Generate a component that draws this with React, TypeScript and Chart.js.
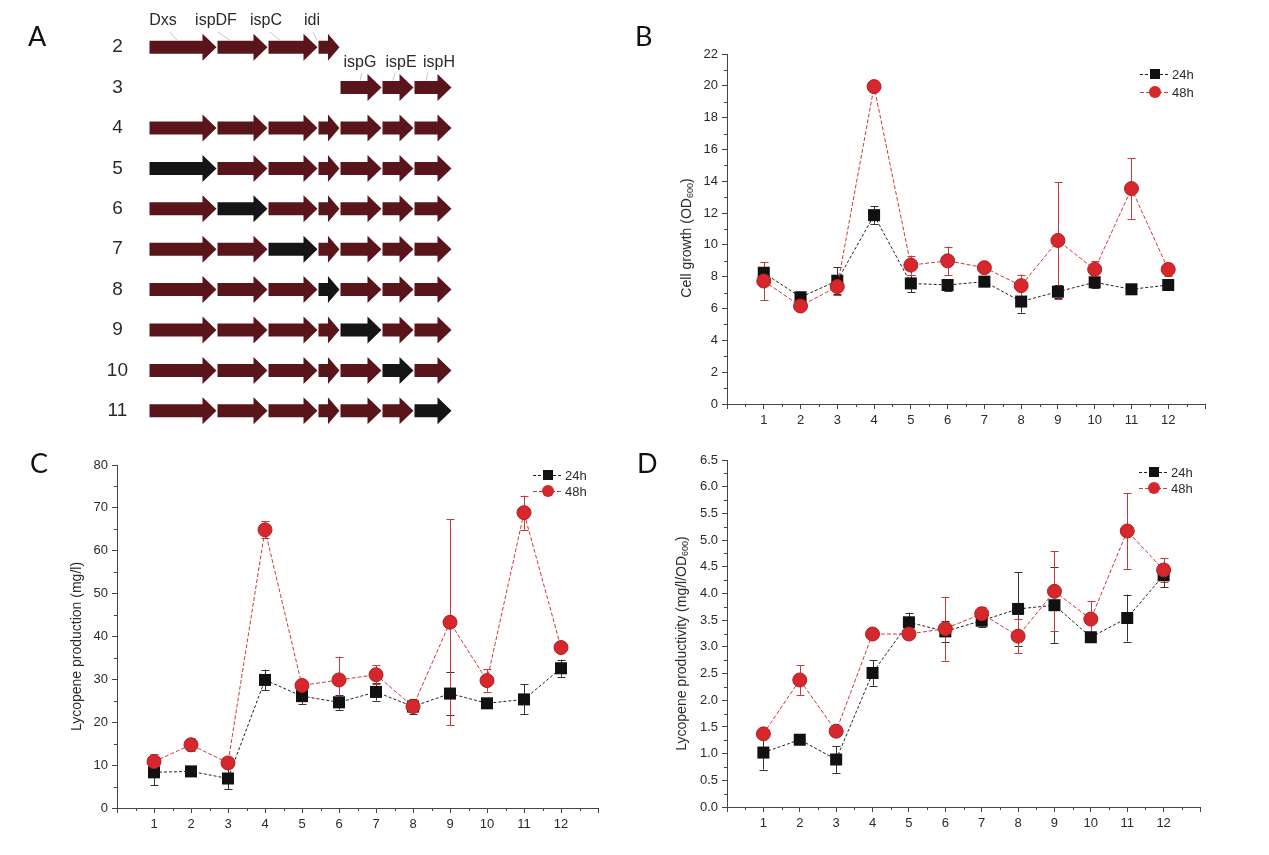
import React, { useEffect, useRef } from 'react';
import { Chart, registerables } from 'chart.js';

Chart.register(...registerables);

// ---------- Panel A data ----------
const geneNames = ['Dxs', 'ispDF', 'ispC', 'idi', 'ispG', 'ispE', 'ispH'];
const geneLengths = [68, 51, 50, 22, 42, 32, 38];
const constructs = ['2', '3', '4', '5', '6', '7', '8', '9', '10', '11'];
const constructGenes = [
  [0, 1, 2, 3],
  [4, 5, 6],
  [0, 1, 2, 3, 4, 5, 6],
  [0, 1, 2, 3, 4, 5, 6],
  [0, 1, 2, 3, 4, 5, 6],
  [0, 1, 2, 3, 4, 5, 6],
  [0, 1, 2, 3, 4, 5, 6],
  [0, 1, 2, 3, 4, 5, 6],
  [0, 1, 2, 3, 4, 5, 6],
  [0, 1, 2, 3, 4, 5, 6],
];
const replacedGene = [-1, -1, -1, 0, 1, 2, 3, 4, 5, 6];

// ---------- Panels B-D data ----------
const strains = [1, 2, 3, 4, 5, 6, 7, 8, 9, 10, 11, 12];
const seriesLabels = ['24h', '48h'];

const growth24 = [8.25, 6.71, 7.75, 11.87, 7.58, 7.48, 7.69, 6.44, 7.06, 7.65, 7.21, 7.48];
const growth24Err = [0.3, 0.15, 0.85, 0.55, 0.55, 0.35, 0.2, 0.7, 0.4, 0.35, 0.15, 0.2];
const growth48 = [7.73, 6.16, 7.38, 19.95, 8.73, 9.0, 8.57, 7.44, 10.28, 8.46, 13.54, 8.46];
const growth48Err = [1.2, 0.2, 0.5, 0.3, 0.6, 0.9, 0.2, 0.7, 3.65, 0.5, 1.9, 0.4];

const prod24 = [8.32, 8.54, 6.88, 29.87, 26.09, 24.65, 27.07, 23.67, 26.69, 24.42, 25.33, 32.59];
const prod24Err = [3.0, 0.5, 2.5, 2.4, 1.8, 1.7, 2.0, 1.7, 5.1, 0.5, 3.5, 2.0];
const prod48 = [10.81, 14.74, 10.51, 64.88, 28.58, 29.87, 31.08, 23.67, 43.33, 29.72, 68.88, 37.43];
const prod48Err = [1.7, 1.5, 0.5, 2.0, 0.5, 5.4, 2.2, 1.0, 24.0, 2.6, 4.0, 0.5];

const pty24 = [1.02, 1.26, 0.89, 2.51, 3.46, 3.29, 3.49, 3.71, 3.78, 3.18, 3.54, 4.34];
const pty24Err = [0.32, 0.05, 0.25, 0.24, 0.18, 0.2, 0.12, 0.69, 0.71, 0.05, 0.44, 0.22];
const pty48 = [1.37, 2.38, 1.42, 3.24, 3.24, 3.34, 3.62, 3.2, 4.04, 3.52, 5.17, 4.44];
const pty48Err = [0.05, 0.28, 0.08, 0.03, 0.05, 0.6, 0.13, 0.32, 0.75, 0.34, 0.71, 0.22];

// ---------- styles ----------
const FONT = "'Liberation Sans', Arial, sans-serif";
const LETTER_FONT = "Lato, 'Open Sans', sans-serif";
const AXIS = '#444';
const TEXT = '#2a2a2a';
const RED = '#d6282c';
const RED_LINE = '#cf3a3a';
const BLACK = '#111';
const GENE_RED = '#5a151a';
const GENE_BLACK = '#151515';

function letterPlugin(text: string, x: number, y: number) {
  return {
    id: 'letter',
    afterDraw(chart: any) {
      const ctx = chart.ctx;
      ctx.save();
      ctx.fillStyle = '#111';
      ctx.font = `27px ${LETTER_FONT}`;
      ctx.textAlign = 'left';
      ctx.textBaseline = 'alphabetic';
      ctx.fillText(text, x, y);
      ctx.restore();
    },
  };
}

// canvas A is shifted up by this much so that the chart area lands where wanted
const A_SHIFT = 10;

function makeGeneChart(canvas: HTMLCanvasElement) {
  const starts = geneLengths.map((_, i) => geneLengths.slice(0, i).reduce((a, b) => a + b, 0));
  const total = geneLengths.reduce((a, b) => a + b, 0);
  const labelDx = [14, -1, -2, -6, 20, 19, 25];
  const leadFrom = [7, 2, 4, 1, 2, -6, -11];
  const leadTo = [14, 14, 14, 5, 0, -8, -13];

  const arrows = {
    id: 'arrows',
    afterDatasetsDraw(chart: any) {
      const ctx = chart.ctx;
      ctx.save();
      geneNames.forEach((_, g) => {
        const meta = chart.getDatasetMeta(g);
        meta.data.forEach((el: any, r: number) => {
          if (chart.data.datasets[g].data[r] == null) return;
          const p = el.getProps(['x', 'base', 'y', 'height'], true);
          const left = Math.min(p.x, p.base) + 0.5;
          const right = Math.max(p.x, p.base) - 0.5;
          const bh = 6.5;
          const hh = 13.5;
          const hl = Math.min(14, (right - left) * 0.55);
          ctx.beginPath();
          ctx.moveTo(left, p.y - bh);
          ctx.lineTo(right - hl, p.y - bh);
          ctx.lineTo(right - hl, p.y - hh);
          ctx.lineTo(right, p.y);
          ctx.lineTo(right - hl, p.y + hh);
          ctx.lineTo(right - hl, p.y + bh);
          ctx.lineTo(left, p.y + bh);
          ctx.closePath();
          ctx.fillStyle = replacedGene[r] === g ? GENE_BLACK : GENE_RED;
          ctx.fill();
        });
      });
      // gene labels above their first occurrence
      ctx.font = `16px ${FONT}`;
      ctx.textAlign = 'center';
      ctx.textBaseline = 'middle';
      geneNames.forEach((name, g) => {
        const r = constructGenes.findIndex((row) => row.includes(g));
        const el = chart.getDatasetMeta(g).data[r];
        const p = el.getProps(['x', 'base', 'y'], true);
        const cx = Math.min(p.x, p.base) + labelDx[g];
        const up = r === 0 ? 27 : 25;
        ctx.fillStyle = TEXT;
        ctx.fillText(name, cx, p.y - up);
        ctx.strokeStyle = '#b8b8b8';
        ctx.lineWidth = 0.8;
        ctx.beginPath();
        ctx.moveTo(cx + leadFrom[g], p.y - 15);
        ctx.lineTo(cx + leadTo[g], p.y - 7);
        ctx.stroke();
      });
      ctx.restore();
    },
  };

  return new Chart(canvas, {
    type: 'bar',
    data: {
      labels: constructs,
      datasets: geneNames.map((name, g) => ({
        label: name,
        data: constructs.map((_, r) =>
          constructGenes[r].includes(g) ? [starts[g], starts[g] + geneLengths[g]] : null
        ),
        backgroundColor: 'rgba(0,0,0,0)',
        borderWidth: 0,
        barThickness: 13,
        grouped: false,
      })) as any,
    },
    options: {
      indexAxis: 'y',
      responsive: false,
      animation: false,
      layout: { padding: { left: 0, top: 27 + A_SHIFT, right: 168, bottom: 39 } },
      plugins: { legend: { display: false }, tooltip: { enabled: false } },
      scales: {
        x: { type: 'linear', display: false, min: 0, max: total },
        y: {
          type: 'category',
          afterFit: (s: any) => {
            s.width = 149;
          },
          grid: { display: false },
          border: { display: false },
          ticks: {
            font: { family: FONT, size: 19 },
            color: TEXT,
            padding: 13,
            crossAlign: 'center',
          },
        },
      },
    } as any,
    plugins: [arrows, letterPlugin('A', 28, 46 + A_SHIFT)],
  });
}

type PanelCfg = {
  s24: number[];
  e24: number[];
  s48: number[];
  e48: number[];
  yMax: number;
  yStep: number;
  yMinor: number;
  decimals: number;
  title: string;
  titleSub: string;
  titleEnd: string;
  titleX: number;
  titleDy: number;
  letter: string;
  letterX: number;
  letterY: number;
  pad: { left: number; top: number; right: number; bottom: number };
  yWidth: number;
  legendDx: number;
  legendDy: number;
  legendGap: number;
};

function makePanel(canvas: HTMLCanvasElement, cfg: PanelCfg) {
  const errs = [cfg.e24, cfg.e48];
  const errColors = ['#333', '#c93a3c'];

  const errorBars = {
    id: 'errorBars',
    beforeDatasetsDraw(chart: any) {
      const ctx = chart.ctx;
      const xs = chart.scales.x;
      const ys = chart.scales.y;
      ctx.save();
      ctx.lineWidth = 1;
      chart.data.datasets.forEach((ds: any, i: number) => {
        ctx.strokeStyle = errColors[i];
        ds.data.forEach((pt: any, k: number) => {
          const e = errs[i][k];
          const px = Math.round(xs.getPixelForValue(pt.x)) + 0.5;
          const top = ys.getPixelForValue(pt.y + e);
          const bot = ys.getPixelForValue(pt.y - e);
          ctx.beginPath();
          ctx.moveTo(px, top);
          ctx.lineTo(px, bot);
          ctx.moveTo(px - 4, Math.round(top) + 0.5);
          ctx.lineTo(px + 4, Math.round(top) + 0.5);
          ctx.moveTo(px - 4, Math.round(bot) + 0.5);
          ctx.lineTo(px + 4, Math.round(bot) + 0.5);
          ctx.stroke();
        });
      });
      ctx.restore();
    },
  };

  const minorTicks = {
    id: 'minorTicks',
    afterDraw(chart: any) {
      const ctx = chart.ctx;
      const xs = chart.scales.x;
      const ys = chart.scales.y;
      ctx.save();
      ctx.strokeStyle = AXIS;
      ctx.lineWidth = 1;
      ctx.beginPath();
      for (let v = 0.5; v < 13; v += 1) {
        const px = Math.round(xs.getPixelForValue(v)) + 0.5;
        ctx.moveTo(px, xs.top);
        ctx.lineTo(px, xs.top + 3);
      }
      for (let k = 1; k * cfg.yMinor < cfg.yMax - 1e-9; k += 2) {
        const py = Math.round(ys.getPixelForValue(k * cfg.yMinor)) + 0.5;
        ctx.moveTo(ys.right - 3, py);
        ctx.lineTo(ys.right, py);
      }
      ctx.stroke();
      ctx.restore();
    },
  };

  const legend = {
    id: 'customLegend',
    afterDraw(chart: any) {
      const ctx = chart.ctx;
      const area = chart.chartArea;
      ctx.save();
      chart.data.datasets.forEach((ds: any, i: number) => {
        const yy = area.top + cfg.legendDy + i * cfg.legendGap;
        const xm = area.right - cfg.legendDx;
        ctx.strokeStyle = ds.borderColor;
        ctx.lineWidth = 1;
        ctx.setLineDash(ds.borderDash);
        ctx.beginPath();
        ctx.moveTo(xm - 15, yy + 0.5);
        ctx.lineTo(xm + 15, yy + 0.5);
        ctx.stroke();
        ctx.setLineDash([]);
        ctx.fillStyle = ds.pointBackgroundColor;
        if (ds.pointStyle === 'rect') {
          ctx.fillRect(xm - 5, yy - 5, 10, 10);
        } else {
          ctx.beginPath();
          ctx.arc(xm, yy, 6, 0, Math.PI * 2);
          ctx.fill();
        }
        ctx.fillStyle = TEXT;
        ctx.font = `13px ${FONT}`;
        ctx.textAlign = 'left';
        ctx.textBaseline = 'middle';
        ctx.fillText(ds.label, xm + 17, yy + 1);
      });
      ctx.restore();
    },
  };

  const yTitle = {
    id: 'yTitle',
    afterDraw(chart: any) {
      const ctx = chart.ctx;
      const area = chart.chartArea;
      const cy = (area.top + area.bottom) / 2 + cfg.titleDy;
      ctx.save();
      ctx.translate(cfg.titleX, cy);
      ctx.rotate(-Math.PI / 2);
      ctx.fillStyle = TEXT;
      ctx.textBaseline = 'middle';
      ctx.textAlign = 'left';
      const mainFont = `14px ${FONT}`;
      const subFont = `9px ${FONT}`;
      ctx.font = mainFont;
      const w1 = ctx.measureText(cfg.title).width;
      const w3 = ctx.measureText(cfg.titleEnd).width;
      ctx.font = subFont;
      const w2 = cfg.titleSub ? ctx.measureText(cfg.titleSub).width : 0;
      let x0 = -(w1 + w2 + w3) / 2;
      ctx.font = mainFont;
      ctx.fillText(cfg.title, x0, 0);
      x0 += w1;
      if (cfg.titleSub) {
        ctx.font = subFont;
        ctx.fillText(cfg.titleSub, x0, 4);
        x0 += w2;
      }
      ctx.font = mainFont;
      ctx.fillText(cfg.titleEnd, x0, 0);
      ctx.restore();
    },
  };

  const tickFont = { family: FONT, size: 13 };
  const grid = { drawOnChartArea: false, drawTicks: true, tickLength: 5, color: AXIS };
  const border = { display: true, color: AXIS, width: 1 };

  return new Chart(canvas, {
    type: 'line',
    data: {
      datasets: [
        {
          label: seriesLabels[0],
          data: strains.map((x, i) => ({ x, y: cfg.s24[i] })),
          borderColor: '#222',
          borderWidth: 1,
          borderDash: [3, 2],
          pointStyle: 'rect',
          pointRadius: 8.5,
          pointBackgroundColor: BLACK,
          pointBorderColor: BLACK,
          pointBorderWidth: 0,
          fill: false,
          tension: 0,
          order: 1,
        },
        {
          label: seriesLabels[1],
          data: strains.map((x, i) => ({ x, y: cfg.s48[i] })),
          borderColor: RED_LINE,
          borderWidth: 1,
          borderDash: [4, 2],
          pointStyle: 'circle',
          pointRadius: 7,
          pointBackgroundColor: RED,
          pointBorderColor: '#b01e22',
          pointBorderWidth: 1,
          fill: false,
          tension: 0,
          order: 0,
        },
      ],
    },
    options: {
      responsive: false,
      animation: false,
      layout: { padding: cfg.pad },
      plugins: { legend: { display: false }, tooltip: { enabled: false } },
      scales: {
        x: {
          type: 'linear',
          min: 0,
          max: 13,
          afterFit: (s: any) => {
            s.height = 30;
          },
          ticks: {
            stepSize: 1,
            autoSkip: false,
            maxRotation: 0,
            font: tickFont,
            color: TEXT,
            padding: 4,
            callback: (v: any) => (v >= 1 && v <= 12 ? String(v) : ''),
          },
          grid,
          border,
        },
        y: {
          type: 'linear',
          min: 0,
          max: cfg.yMax,
          afterFit: (s: any) => {
            s.width = cfg.yWidth;
          },
          ticks: {
            stepSize: cfg.yStep,
            autoSkip: false,
            font: tickFont,
            color: TEXT,
            padding: 4,
            callback: (v: any) => Number(v).toFixed(cfg.decimals),
          },
          grid,
          border,
        },
      },
    } as any,
    plugins: [errorBars, minorTicks, legend, yTitle, letterPlugin(cfg.letter, cfg.letterX, cfg.letterY)],
  });
}

export default function App() {
  const refA = useRef<HTMLCanvasElement>(null);
  const refB = useRef<HTMLCanvasElement>(null);
  const refC = useRef<HTMLCanvasElement>(null);
  const refD = useRef<HTMLCanvasElement>(null);

  useEffect(() => {
    const charts: Chart[] = [];
    charts.push(makeGeneChart(refA.current!));
    charts.push(
      makePanel(refB.current!, {
        s24: growth24,
        e24: growth24Err,
        s48: growth48,
        e48: growth48Err,
        yMax: 22,
        yStep: 2,
        yMinor: 1,
        decimals: 0,
        title: 'Cell growth (OD',
        titleSub: '600',
        titleEnd: ')',
        titleX: 67,
        titleDy: 9,
        letter: 'B',
        letterX: 15,
        letterY: 46,
        pad: { left: 0, top: 54, right: 64, bottom: 6 },
        yWidth: 107,
        legendDx: 50,
        legendDy: 20,
        legendGap: 18,
      })
    );
    charts.push(
      makePanel(refC.current!, {
        s24: prod24,
        e24: prod24Err,
        s48: prod48,
        e48: prod48Err,
        yMax: 80,
        yStep: 10,
        yMinor: 5,
        decimals: 0,
        title: 'Lycopene production (mg/l)',
        titleSub: '',
        titleEnd: '',
        titleX: 77,
        titleDy: 10,
        letter: 'C',
        letterX: 30,
        letterY: 33,
        pad: { left: 0, top: 25, right: 22, bottom: 17 },
        yWidth: 117,
        legendDx: 50,
        legendDy: 10,
        legendGap: 16,
      })
    );
    charts.push(
      makePanel(refD.current!, {
        s24: pty24,
        e24: pty24Err,
        s48: pty48,
        e48: pty48Err,
        yMax: 6.5,
        yStep: 0.5,
        yMinor: 0.25,
        decimals: 1,
        title: 'Lycopene productivity (mg/l/OD',
        titleSub: '600',
        titleEnd: ')',
        titleX: 62,
        titleDy: 10,
        letter: 'D',
        letterX: 17,
        letterY: 33,
        pad: { left: 0, top: 20, right: 69, bottom: 18 },
        yWidth: 107,
        legendDx: 46,
        legendDy: 12,
        legendGap: 16,
      })
    );
    return () => charts.forEach((c) => c.destroy());
  }, []);

  const abs = (left: number, top: number): React.CSSProperties => ({
    position: 'absolute',
    left,
    top,
  });

  return (
    <div
      style={{
        position: 'fixed',
        left: 0,
        top: 0,
        width: 1269,
        height: 855,
        background: '#fff',
        overflow: 'hidden',
      }}
    >
      <canvas ref={refC} width={620} height={415} style={abs(0, 440)} />
      <canvas ref={refD} width={649} height={415} style={abs(620, 440)} />
      <canvas ref={refA} width={620} height={480} style={abs(0, -A_SHIFT)} />
      <canvas ref={refB} width={649} height={440} style={abs(620, 0)} />
    </div>
  );
}
